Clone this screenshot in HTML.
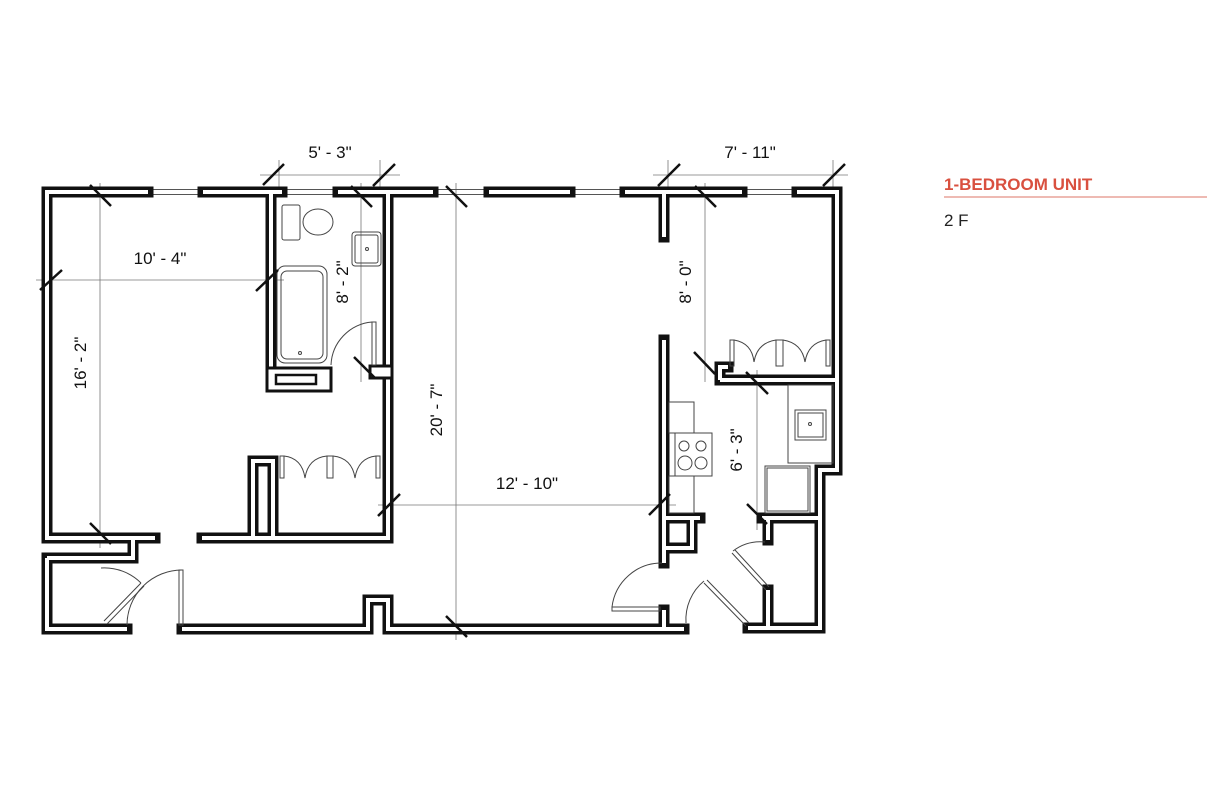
<!DOCTYPE html>
<html><head><meta charset="utf-8"><style>
html,body{margin:0;padding:0;background:#fff;}
svg{display:block}
text{font-family:"Liberation Sans",sans-serif;}
</style></head><body>
<svg width="1228" height="794" viewBox="0 0 1228 794" xmlns="http://www.w3.org/2000/svg">
<!-- dimension lines -->
<g stroke="#777" stroke-width="0.8" fill="none">
<line x1="100" y1="183" x2="100" y2="548"/>
<line x1="36" y1="280" x2="284" y2="280"/>
<line x1="260" y1="175" x2="400" y2="175"/>
<line x1="279" y1="160" x2="279" y2="192"/>
<line x1="380" y1="160" x2="380" y2="192"/>
<line x1="361" y1="183" x2="361" y2="382"/>
<line x1="456" y1="183" x2="456" y2="640"/>
<line x1="378" y1="505" x2="676" y2="505"/>
<line x1="653" y1="175" x2="848" y2="175"/>
<line x1="668" y1="160" x2="668" y2="192"/>
<line x1="833" y1="160" x2="833" y2="192"/>
<line x1="705" y1="183" x2="705" y2="382"/>
<line x1="757" y1="370" x2="757" y2="530"/>
</g>
<!-- windows -->
<g stroke="#555" stroke-width="1" fill="none">
<path d="M148,189.5H203M148,194.5H203M282,189.5H338M282,194.5H338M433,189.5H489M433,194.5H489M570,189.5H625M570,194.5H625M742,189.5H797M742,194.5H797"/>
</g>
<!-- walls -->
<g fill="none" stroke-linejoin="miter">
<path id="w" stroke="#111" stroke-width="11" stroke-linecap="square" d="
M148,192H47V538H155
M47,558H133V538
M47,558V629H127
M203,192H282
M271,192V385
M338,192H433
M388,192V538H202
M253,538V461H273V538
M489,192H570
M625,192H742
M664,192V237
M797,192H837V470H820V628H748
M664,340V563
M182,629H368V600H388V629H684
M664,629V610
M664,518H700M692,518V548H664
M720,380H837M720,380V367H728
M762,518H820M768,518V540
M768,590V628"/>
<path stroke="#fff" stroke-width="4" stroke-linecap="butt" d="
M148,192H47V538H155
M47,558H133V538
M47,558V629H127
M203,192H282
M271,192V385
M338,192H433
M388,192V538H202
M253,538V461H273V538
M489,192H570
M625,192H742
M664,192V237
M797,192H837V470H820V628H748
M664,340V563
M182,629H368V600H388V629H684
M664,629V610
M664,518H700M692,518V548H664
M720,380H837M720,380V367H728
M762,518H820M768,518V540
M768,590V628"/>
</g>
<!-- bath bottom -->
<rect x="267" y="368" width="64" height="23" fill="#fff" stroke="#111" stroke-width="3"/>
<rect x="276" y="375" width="40" height="9" fill="#fff" stroke="#111" stroke-width="2.5"/>
<rect x="370" y="366" width="22" height="12" fill="#fff" stroke="#111" stroke-width="3"/>
<!-- fixtures -->
<g fill="none" stroke="#444" stroke-width="1">
<rect x="282" y="205" width="18" height="35" rx="2"/>
<ellipse cx="318" cy="222" rx="15" ry="13"/>
<rect x="352" y="232" width="29" height="34" rx="3"/>
<rect x="355" y="235" width="23" height="28" rx="2"/>
<circle cx="367" cy="249" r="1.5"/>
<rect x="277" y="266" width="50" height="97" rx="8"/>
<rect x="281" y="271" width="42" height="88" rx="6"/>
<circle cx="300" cy="353" r="1.5"/>
<!-- bath door -->
<rect x="372" y="322" width="4" height="43"/>
<path d="M372,322 A45,45 0 0,0 331,365"/>
<!-- bedroom closet doors -->
<rect x="280" y="456" width="4" height="22"/><rect x="327" y="456" width="6" height="22"/><rect x="376" y="456" width="4" height="22"/>
<path d="M284,456 Q302,458 305,478 M327,456 Q308,458 305,478 M333,456 Q352,458 355,478 M376,456 Q358,458 355,478"/>
<!-- right closet doors -->
<rect x="730" y="340" width="4" height="26"/><rect x="776" y="340" width="7" height="26"/><rect x="826" y="340" width="4" height="26"/>
<path d="M734,340 Q752,343 754,362 M776,340 Q757,343 754,362 M783,340 Q802,343 805,362 M826,340 Q808,343 805,362"/>
<!-- kitchen -->
<rect x="669" y="402" width="25" height="31"/>
<rect x="675" y="433" width="37" height="43"/>
<circle cx="684" cy="446" r="5"/><circle cx="701" cy="446" r="5"/><circle cx="685" cy="463" r="7"/><circle cx="701" cy="463" r="6"/>
<rect x="669" y="476" width="25" height="37"/>
<rect x="788" y="385" width="45" height="78"/>
<rect x="795" y="410" width="31" height="30"/><rect x="798" y="413" width="25" height="24"/>
<circle cx="810" cy="424" r="1.5"/>
<rect x="765" y="466" width="45" height="47"/>
<rect x="767" y="468" width="41" height="43"/>
<!-- left closet door -->
<path d="M104,621 L141,583 M107,624 L144,586"/>
<path d="M101,568 A52,52 0 0,1 141,583"/>
<!-- front door -->
<rect x="179" y="570" width="4" height="55"/>
<path d="M182,570 A55,55 0 0,0 127,625"/>
<!-- kitchen left door -->
<rect x="612" y="607" width="48" height="4"/>
<path d="M612,607 A50,50 0 0,1 662,563"/>
<!-- right doors -->
<path d="M704,583 L746,626 M707,580 L749,623"/>
<path d="M686,623 A50,50 0 0,1 704,581"/>
<path d="M732,553 L766,590 M735,550 L769,587"/>
<path d="M733,551 A45,45 0 0,1 765,542"/>
</g>
<!-- ticks -->
<g stroke="#111" stroke-width="2.5">
<line x1="263" y1="185" x2="284" y2="164"/>
<line x1="373" y1="186" x2="395" y2="164"/>
<line x1="658" y1="186" x2="680" y2="164"/>
<line x1="823" y1="186" x2="845" y2="164"/>
<line x1="90" y1="185" x2="111" y2="206"/>
<line x1="351" y1="186" x2="372" y2="207"/>
<line x1="446" y1="186" x2="467" y2="207"/>
<line x1="695" y1="186" x2="716" y2="207"/>
<line x1="40" y1="290" x2="62" y2="270"/>
<line x1="256" y1="291" x2="278" y2="270"/>
<line x1="354" y1="357" x2="375" y2="378"/>
<line x1="90" y1="523" x2="111" y2="544"/>
<line x1="446" y1="616" x2="467" y2="637"/>
<line x1="378" y1="516" x2="400" y2="494"/>
<line x1="649" y1="515" x2="670" y2="494"/>
<line x1="694" y1="352" x2="715" y2="374"/>
<line x1="746" y1="372" x2="768" y2="394"/>
<line x1="747" y1="504" x2="767" y2="524"/>
</g>
<!-- labels -->
<g font-size="17" fill="#111">
<text x="160" y="264" text-anchor="middle">10' - 4"</text>
<text x="330" y="158" text-anchor="middle">5' - 3"</text>
<text x="750" y="158" text-anchor="middle">7' - 11"</text>
<text x="527" y="489" text-anchor="middle">12' - 10"</text>
<text transform="translate(86,363) rotate(-90)" text-anchor="middle">16' - 2"</text>
<text transform="translate(348,282) rotate(-90)" text-anchor="middle">8' - 2"</text>
<text transform="translate(442,410) rotate(-90)" text-anchor="middle">20' - 7"</text>
<text transform="translate(691,282) rotate(-90)" text-anchor="middle">8' - 0"</text>
<text transform="translate(742,450) rotate(-90)" text-anchor="middle">6' - 3"</text>
</g>
<text x="944" y="190" font-size="17" font-weight="bold" fill="#d9503f">1-BEDROOM UNIT</text>
<line x1="944" y1="197" x2="1207" y2="197" stroke="#e9a49a" stroke-width="1.5"/>
<text x="944" y="226" font-size="17" fill="#222">2 F</text>
</svg>
</body></html>
